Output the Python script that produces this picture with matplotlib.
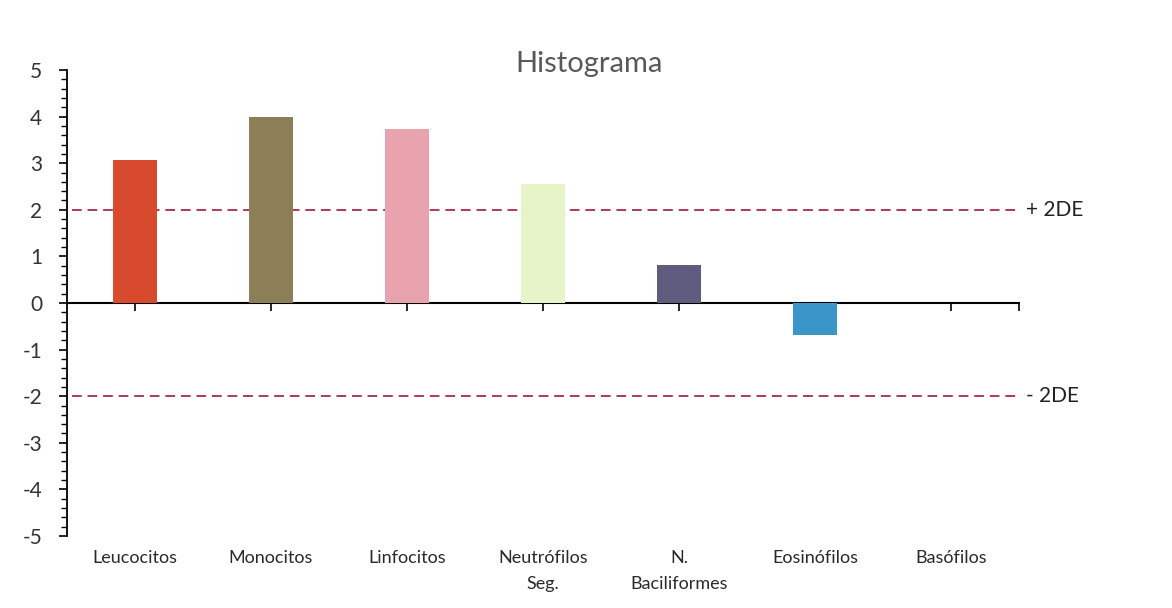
import numpy as np
import matplotlib
matplotlib.use('Agg')
import matplotlib.pyplot as plt
from matplotlib.ticker import MultipleLocator

plt.rcParams['font.family'] = ['Lato', 'DejaVu Sans']
plt.rcParams['axes.unicode_minus'] = False

# categories and standardized scores
categorias = ['Leucocitos', 'Monocitos', 'Linfocitos', 'Neutrófilos\nSeg.',
              'N.\nBaciliformes', 'Eosinófilos', 'Basófilos']
valores = [3.07, 4.0, 3.73, 2.55, 0.82, -0.68, 0.0]
colores = ['#d84a2e', '#8c7e56', '#e8a3ae', '#e7f4c8', '#5f5c80', '#3a95c8', '#3a95c8']
limite_de = 2
etiquetas_de = ['+ 2DE', '- 2DE']

fig = plt.figure(figsize=(11.72, 6.08), dpi=100)
ax = fig.add_axes([0.0572, 0.1184, 0.8123, 0.7665])

x = np.arange(len(categorias))
ax.bar(x, valores, width=0.32, color=colores, zorder=2)

# +/- 2 SD reference lines
for y, lab in zip([limite_de, -limite_de], etiquetas_de):
    ax.hlines(y, -0.46, 6.5, colors='#b03a55', linestyles=(0, (5, 3)), lw=1.4, zorder=1)
    ax.text(6.55, y, lab, va='center', ha='left', fontsize=15, color='#222222')

ax.set_xlim(-0.5, 6.5)
ax.set_ylim(-5, 5)

# y axis
ax.yaxis.set_major_locator(MultipleLocator(1))
ax.yaxis.set_minor_locator(MultipleLocator(0.2))
ax.tick_params(axis='y', which='major', length=6, width=1.2, pad=12,
               labelsize=15, labelcolor='#333333')
ax.tick_params(axis='y', which='minor', length=4, width=1.0)

# category labels below the plot area
ax.set_xticks(x)
ax.set_xticklabels(categorias, fontsize=13, color='#2a2a2a', linespacing=1.75)
ax.tick_params(axis='x', length=0, pad=10)

for s in ['top', 'right', 'bottom']:
    ax.spines[s].set_visible(False)
ax.spines['left'].set_linewidth(1.3)

# zero axis with tick marks pointing down
eje0 = ax.secondary_xaxis(0.5)
eje0.set_xticks(list(x) + [6.5])
eje0.tick_params(axis='x', direction='in', length=6, width=1.2,
                 labelbottom=False, labeltop=False)
for s in eje0.spines.values():
    s.set_linewidth(1.5)

fig.text(0.503, 0.895, 'Histograma', ha='center', va='center', fontsize=21, color='#595959')

fig.savefig('out.png', dpi=100)
